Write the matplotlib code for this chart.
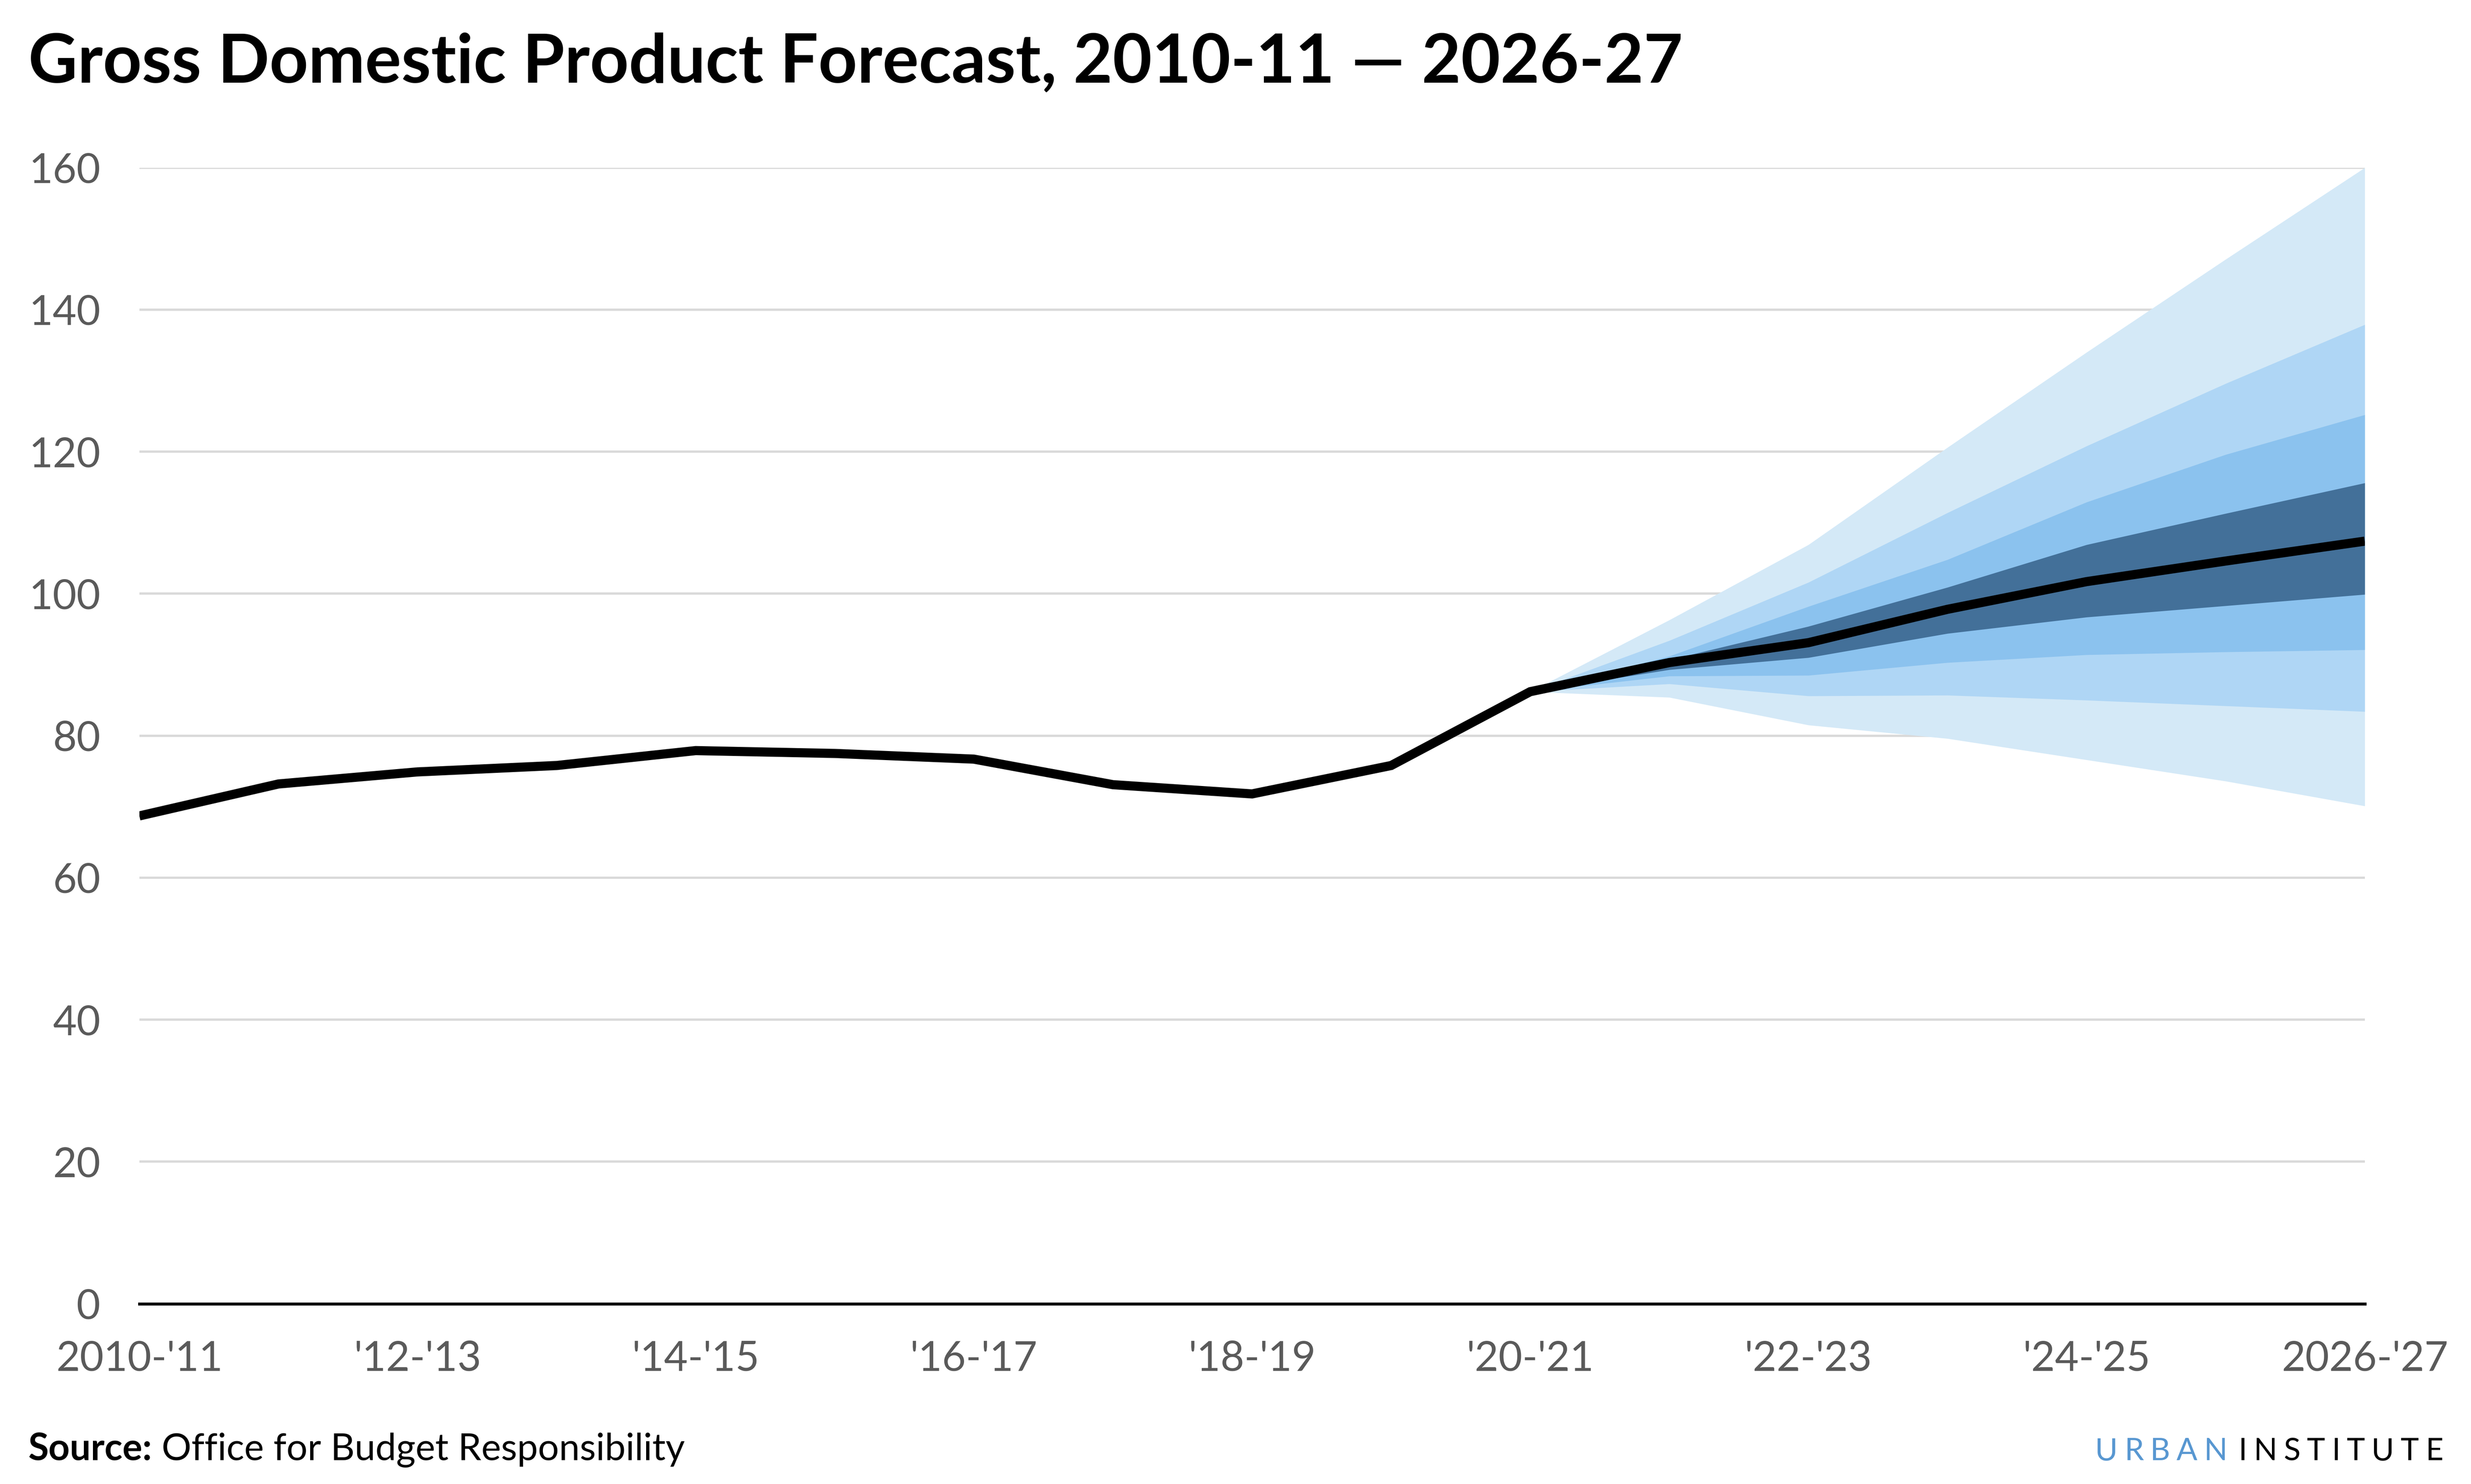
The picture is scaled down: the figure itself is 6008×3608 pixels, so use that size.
import matplotlib.pyplot as plt

plt.rcParams['font.family'] = ['Lato', 'DejaVu Sans']

# fiscal years 2010-11 .. 2026-27 as 0..16
years = list(range(17))
gdp = [68.7, 73.2, 74.9, 75.8, 77.9, 77.5, 76.7, 73.1, 71.8, 75.8,
       86.2, 90.3, 93.1, 97.8, 101.7, 104.6, 107.4]

# forecast fan, 2020-21 .. 2026-27
fan_years = years[10:]
outer_hi = [86.2, 96.3, 106.9, 120.6, 134.0, 147.1, 160.0]
outer_lo = [86.2, 85.4, 81.5, 79.6, 76.6, 73.6, 70.1]
mid_hi = [86.2, 93.4, 101.6, 111.4, 120.8, 129.6, 137.9]
mid_lo = [86.2, 87.3, 85.6, 85.7, 85.0, 84.2, 83.4]
inner_hi = [86.2, 91.2, 98.2, 104.8, 112.9, 119.6, 125.2]
inner_lo = [86.2, 88.4, 88.5, 90.3, 91.4, 91.8, 92.1]
core_hi = [86.2, 90.7, 95.4, 100.9, 106.9, 111.3, 115.6]
core_lo = [86.2, 89.3, 91.0, 94.4, 96.7, 98.3, 99.9]

xtick_pos = [0, 2, 4, 6, 8, 10, 12, 14, 16]
xtick_labels = ["2010-'11", "'12-'13", "'14-'15", "'16-'17", "'18-'19",
                "'20-'21", "'22-'23", "'24-'25", "2026-'27"]
ytick_pos = [0, 20, 40, 60, 80, 100, 120, 140, 160]

fig = plt.figure(figsize=(15.02, 9.02), dpi=400)
ax = fig.add_axes([0.0564, 0.1215, 0.9006, 0.7655])

ax.fill_between(fan_years, outer_lo, outer_hi, color='#d4e9f7', lw=0, zorder=2)
ax.fill_between(fan_years, mid_lo, mid_hi, color='#afd6f5', lw=0, zorder=3)
ax.fill_between(fan_years, inner_lo, inner_hi, color='#8bc2ee', lw=0, zorder=4)
ax.fill_between(fan_years, core_lo, core_hi, color='#437099', lw=0, zorder=5)
ax.plot(years, gdp, color='black', lw=4, solid_capstyle='butt',
        solid_joinstyle='miter', zorder=6)

ax.set_xlim(0, 16)
ax.set_ylim(0, 160)
ax.set_xticks(xtick_pos)
ax.set_xticklabels(xtick_labels)
ax.set_yticks(ytick_pos)
ax.grid(axis='y', color='#d9d9d9', lw=1, zorder=1)
ax.set_axisbelow(True)
for s in ['top', 'right', 'left']:
    ax.spines[s].set_visible(False)
ax.spines['bottom'].set_color('black')
ax.spines['bottom'].set_linewidth(1.3)
ax.spines['bottom'].set_zorder(7)
ax.tick_params(axis='both', length=0, labelsize=18, labelcolor='#5a5a5a')
ax.tick_params(axis='y', pad=17)
ax.tick_params(axis='x', pad=16)

fig.text(0.0115, 0.9445, 'Gross Domestic Product Forecast, 2010-11 \u2014 2026-27',
         fontsize=29.7, fontweight='bold', color='black', va='baseline', ha='left')

fig.canvas.draw()
r = fig.canvas.get_renderer()
W = fig.bbox.width

src = fig.text(0.0115, 0.016, 'Source:', fontsize=16.3, fontweight='bold',
               va='baseline', ha='left')
bb = src.get_window_extent(renderer=r)
x2 = (bb.x1 + 0.25 * 16.3 / 72 * fig.dpi) / W
fig.text(x2, 0.016, 'Office for Budget Responsibility', fontsize=16.3,
         va='baseline', ha='left')


# spaced-out logo text, laid out letter by letter from the right edge
def tracked(word, x_right, color, size, track):
    x = x_right
    gap = track * size / 72 * fig.dpi
    for ch in reversed(word):
        t = fig.text(x / W, 0.016, ch, fontsize=size, va='baseline',
                     ha='right', color=color)
        x = t.get_window_extent(renderer=r).x0 - gap
    return x


xr = tracked('INSTITUTE', 0.9887 * W, 'black', 13.5, 0.21)
tracked('URBAN', xr - 0.15 * 13.5 / 72 * fig.dpi, '#5897d1', 13.5, 0.21)

fig.savefig('out.png', dpi=400)
